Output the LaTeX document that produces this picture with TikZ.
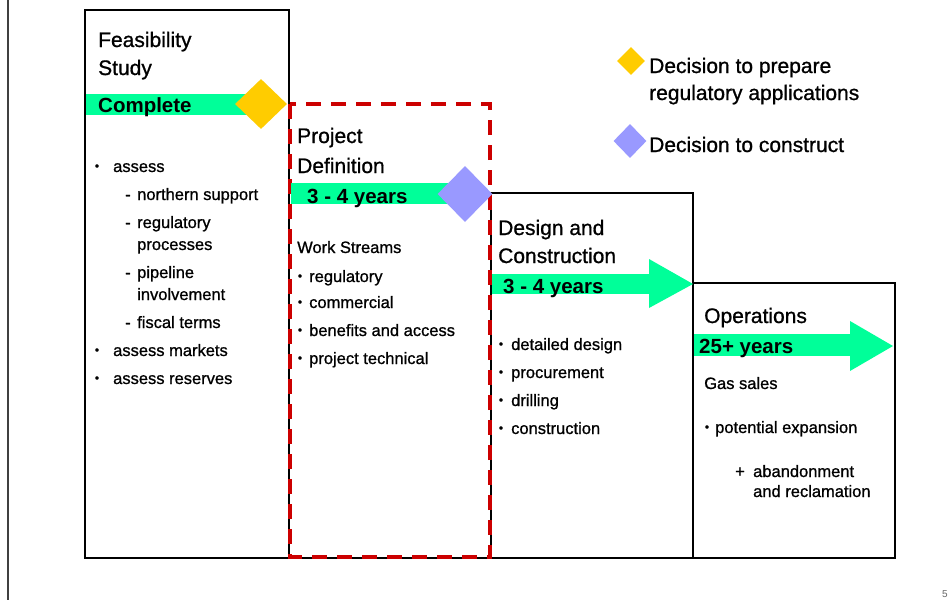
\documentclass[tikz,border=0pt]{standalone}
\usepackage{fontspec}
\setmainfont{Liberation Sans}
\newfontfamily\semib{Liberation Sans}[FakeBold=0.9]
\usetikzlibrary{shapes.geometric}
\definecolor{barG}{RGB}{0,255,153}
\definecolor{dYel}{RGB}{255,204,0}
\definecolor{dPur}{RGB}{153,153,255}
\definecolor{dRed}{RGB}{204,0,0}
\tikzset{
  ttl/.style={anchor=base west, inner sep=0, font=\semib\fontsize{21}{25}\selectfont},
  itm/.style={anchor=base west, inner sep=0, font=\semib\fontsize{16.5}{20}\selectfont},
  bul/.style={anchor=base, inner sep=0, font=\semib\fontsize{12}{14}\selectfont},
  barlbl/.style={anchor=base west, inner sep=0, font=\bfseries\fontsize{20.5}{24}\selectfont},
  boxline/.style={draw=black, line width=1.8pt},
  greenbar/.style={fill=barG, draw=none},
  dia/.style={diamond, aspect=1, inner sep=0, draw=none},
}
\begin{document}
\begin{tikzpicture}[x=1pt,y=-1pt]
\useasboundingbox (0,0) rectangle (951,600);
\fill[white] (0,0) rectangle (951,600);
% page line
\draw[line width=1.2pt, black!75] (8,0) -- (8,600);
% boxes
\draw[boxline] (85,558) -- (85,10) -- (289,10) -- (289,558) -- cycle;
\draw[boxline] (491,558) -- (491,193) -- (693,193) -- (693,558) -- cycle;
\draw[boxline] (693,558) -- (693,283) -- (895,283) -- (895,558) -- cycle;
\draw[boxline] (289,558) -- (491,558);
% red dashed box
\draw[dRed, line width=3.8pt, dash pattern=on 15pt off 10pt] (290,104) rectangle (490,557);
% green bars
\fill[greenbar] (86,94) rectangle (250,115);
\fill[greenbar] (291,183) rectangle (460,204);
\fill[greenbar] (492,274) rectangle (649,294);
\fill[greenbar] (694,334) rectangle (850,356);
% arrows heads
\fill[barG] (649,259) -- (693,284) -- (649,308) -- cycle;
\fill[barG] (850,321) -- (893,346) -- (850,371) -- cycle;
% diamonds
\node[dia, fill=dYel, minimum width=52, minimum height=50] (d1) at (261,104) {};
\node[dia, fill=dPur, minimum width=55, minimum height=56] (d2) at (465,194) {};
\node[dia, fill=dYel, minimum width=28, minimum height=28] (l1) at (631,61) {};
\node[dia, fill=dPur, minimum width=33, minimum height=34] (l2) at (630,141) {};
% legend text
\node[ttl] (lt1) at (649,73) {Decision to prepare};
\node[ttl] (lt2) at (649,100) {regulatory applications};
\node[ttl] (lt3) at (649,152) {Decision to construct};
% Box 1
\node[ttl] (t1a) at (98,47) {Feasibility};
\node[ttl] (t1b) at (98,75) {Study};
\node[barlbl] (b1) at (98,112) {Complete};
\node[bul] (p1) at (97,170) {•};
\node[itm] (i1) at (113,172) {assess};
\node[itm] (s1) at (125,200) {-};
\node[itm] (i2) at (137,200) {northern support};
\node[itm] (s2) at (125,228) {-};
\node[itm] (i3) at (137,228) {regulatory};
\node[itm] (i3b) at (137,250) {processes};
\node[itm] (s3) at (125,278) {-};
\node[itm] (i4) at (137,278) {pipeline};
\node[itm] (i4b) at (137,300) {involvement};
\node[itm] (s4) at (125,328) {-};
\node[itm] (i5) at (137,328) {fiscal terms};
\node[bul] (p2) at (97,354) {•};
\node[itm] (i6) at (113,356) {assess markets};
\node[bul] (p3) at (97,382) {•};
\node[itm] (i7) at (113,384) {assess reserves};
% Box 2
\node[ttl] (t2a) at (297,143) {Project};
\node[ttl] (t2b) at (297,173) {Definition};
\node[barlbl] (b2) at (307,203) {3 - 4 years};
\node[itm] (w0) at (297,253) {Work Streams};
\node[bul] (wb1) at (300,280) {•};
\node[itm] (w1) at (309,282) {regulatory};
\node[bul] (wb2) at (300,306) {•};
\node[itm] (w2) at (309,308) {commercial};
\node[bul] (wb3) at (300,334) {•};
\node[itm] (w3) at (309,336) {benefits and access};
\node[bul] (wb4) at (300,362) {•};
\node[itm] (w4) at (309,364) {project technical};
% Box 3
\node[ttl] (t3a) at (498,235) {Design and};
\node[ttl] (t3b) at (498,263) {Construction};
\node[barlbl] (b3) at (503,293) {3 - 4 years};
\node[bul] (cb1) at (501,348) {•};
\node[itm] (c1) at (511,350) {detailed design};
\node[bul] (cb2) at (501,376) {•};
\node[itm] (c2) at (511,378) {procurement};
\node[bul] (cb3) at (501,404) {•};
\node[itm] (c3) at (511,406) {drilling};
\node[bul] (cb4) at (501,432) {•};
\node[itm] (c4) at (511,434) {construction};
% Box 4
\node[ttl] (t4) at (704,323) {Operations};
\node[barlbl] (b4) at (699,353) {25+ years};
\node[itm] (o1) at (704,389) {Gas sales};
\node[bul] (ob2) at (707,431) {•};
\node[itm] (o2) at (715,433) {potential expansion};
\node[itm] (op3) at (735,477) {+};
\node[itm] (o3) at (753,477) {abandonment};
\node[itm] (o3b) at (753,497) {and reclamation};
% page number
\node[anchor=base east, inner sep=0, font=\fontsize{10}{12}\selectfont, text=black!60] (pg) at (948,597) {5};
\end{tikzpicture}
\end{document}
